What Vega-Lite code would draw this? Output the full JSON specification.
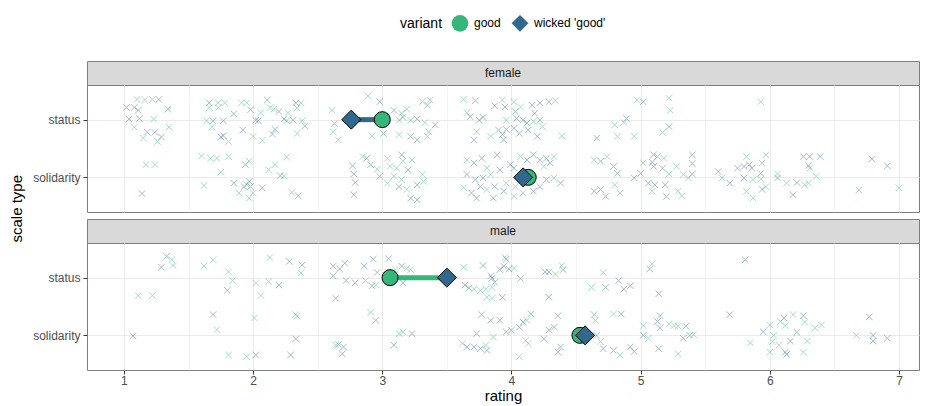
{
"$schema": "https://vega.github.io/schema/vega-lite/v6.json",
"padding": {"left": 10, "top": 14, "right": 11, "bottom": 0},
"title": {"text": "scale type", "orient": "left", "anchor": "middle", "fontSize": 15, "fontWeight": "normal", "color": "#000000", "offset": 7},
"config": {
  "font": "Liberation Sans",
  "view": {"stroke": "#7f7f7f", "strokeWidth": 1},
  "legend": {"layout": {"top": {"anchor": "middle"}}},
  "axis": {"labelColor": "#4d4d4d", "labelFontSize": 12, "tickColor": "#333333", "tickSize": 4, "domain": false, "gridColor": "#ebebeb", "titleFontWeight": "normal", "titleFontSize": 15, "titleColor": "#000000", "labelPadding": 3}
},
"datasets": {
"female": [
{"rating":1.10,"y":2.35,"variant":"good"},{"rating":1.16,"y":2.34,"variant":"good"},{"rating":1.22,"y":2.35,"variant":"good"},{"rating":1.27,"y":2.35,"variant":"wicked 'good'"},{"rating":1.02,"y":2.21,"variant":"wicked 'good'"},{"rating":1.08,"y":2.21,"variant":"wicked 'good'"},{"rating":1.11,"y":2.16,"variant":"wicked 'good'"},{"rating":1.34,"y":2.18,"variant":"wicked 'good'"},{"rating":1.04,"y":2.01,"variant":"wicked 'good'"},{"rating":1.12,"y":2.02,"variant":"wicked 'good'"},{"rating":1.23,"y":2.01,"variant":"good"},{"rating":1.08,"y":1.87,"variant":"good"},{"rating":1.35,"y":1.87,"variant":"good"},{"rating":1.18,"y":1.78,"variant":"wicked 'good'"},{"rating":1.24,"y":1.78,"variant":"wicked 'good'"},{"rating":1.29,"y":1.70,"variant":"wicked 'good'"},{"rating":1.15,"y":1.68,"variant":"good"},{"rating":1.26,"y":1.62,"variant":"good"},{"rating":1.17,"y":1.22,"variant":"good"},{"rating":1.24,"y":1.22,"variant":"good"},{"rating":1.14,"y":0.72,"variant":"wicked 'good'"},
{"rating":1.66,"y":2.29,"variant":"wicked 'good'"},{"rating":1.73,"y":2.29,"variant":"good"},{"rating":1.78,"y":2.29,"variant":"good"},{"rating":1.91,"y":2.29,"variant":"good"},{"rating":1.95,"y":2.29,"variant":"good"},{"rating":2.11,"y":2.34,"variant":"wicked 'good'"},{"rating":2.33,"y":2.29,"variant":"wicked 'good'"},{"rating":2.37,"y":2.29,"variant":"good"},{"rating":1.66,"y":2.21,"variant":"good"},{"rating":1.73,"y":2.21,"variant":"good"},{"rating":1.85,"y":2.10,"variant":"wicked 'good'"},{"rating":1.98,"y":2.17,"variant":"wicked 'good'"},{"rating":2.06,"y":2.12,"variant":"good"},{"rating":2.13,"y":2.21,"variant":"good"},{"rating":2.16,"y":2.18,"variant":"good"},{"rating":2.20,"y":2.14,"variant":"wicked 'good'"},{"rating":2.27,"y":2.12,"variant":"good"},{"rating":2.34,"y":2.20,"variant":"good"},
{"rating":1.64,"y":1.98,"variant":"good"},{"rating":1.69,"y":1.98,"variant":"wicked 'good'"},{"rating":1.77,"y":1.98,"variant":"wicked 'good'"},{"rating":2.02,"y":1.99,"variant":"wicked 'good'"},{"rating":2.04,"y":1.98,"variant":"wicked 'good'"},{"rating":2.24,"y":2.01,"variant":"wicked 'good'"},{"rating":2.31,"y":1.99,"variant":"wicked 'good'"},{"rating":2.26,"y":1.98,"variant":"good"},{"rating":2.38,"y":1.98,"variant":"good"},{"rating":2.40,"y":1.89,"variant":"wicked 'good'"},{"rating":1.68,"y":1.87,"variant":"good"},{"rating":1.92,"y":1.82,"variant":"wicked 'good'"},{"rating":2.00,"y":1.71,"variant":"good"},{"rating":2.07,"y":1.64,"variant":"good"},{"rating":2.15,"y":1.75,"variant":"wicked 'good'"},{"rating":2.17,"y":1.83,"variant":"wicked 'good'"},{"rating":2.34,"y":1.76,"variant":"good"},{"rating":1.75,"y":1.70,"variant":"wicked 'good'"},{"rating":1.77,"y":1.72,"variant":"wicked 'good'"},{"rating":1.81,"y":1.62,"variant":"good"},
{"rating":1.60,"y":1.37,"variant":"good"},{"rating":1.67,"y":1.33,"variant":"good"},{"rating":1.72,"y":1.33,"variant":"good"},{"rating":1.81,"y":1.36,"variant":"good"},{"rating":1.94,"y":1.22,"variant":"wicked 'good'"},{"rating":1.97,"y":1.28,"variant":"good"},{"rating":2.12,"y":1.13,"variant":"good"},{"rating":2.17,"y":1.22,"variant":"good"},{"rating":2.26,"y":1.35,"variant":"good"},{"rating":2.24,"y":1.02,"variant":"good"},{"rating":2.21,"y":1.03,"variant":"wicked 'good'"},{"rating":1.75,"y":1.09,"variant":"good"},{"rating":1.62,"y":0.86,"variant":"good"},{"rating":1.85,"y":0.90,"variant":"wicked 'good'"},{"rating":1.93,"y":0.84,"variant":"wicked 'good'"},{"rating":1.97,"y":0.93,"variant":"wicked 'good'"},{"rating":1.98,"y":0.84,"variant":"wicked 'good'"},{"rating":1.95,"y":0.87,"variant":"good"},{"rating":2.07,"y":0.82,"variant":"wicked 'good'"},{"rating":2.00,"y":0.73,"variant":"good"},{"rating":1.89,"y":0.73,"variant":"good"},{"rating":2.30,"y":0.74,"variant":"good"},{"rating":2.35,"y":0.68,"variant":"wicked 'good'"},{"rating":1.97,"y":0.64,"variant":"good"},
{"rating":2.61,"y":2.16,"variant":"good"},{"rating":2.63,"y":1.93,"variant":"wicked 'good'"},{"rating":2.62,"y":1.79,"variant":"good"},{"rating":2.66,"y":1.65,"variant":"good"},{"rating":2.77,"y":1.20,"variant":"wicked 'good'"},{"rating":2.78,"y":1.06,"variant":"wicked 'good'"},{"rating":2.79,"y":0.91,"variant":"wicked 'good'"},{"rating":2.78,"y":0.70,"variant":"wicked 'good'"},{"rating":2.85,"y":1.36,"variant":"good"},
{"rating":2.89,"y":2.41,"variant":"good"},{"rating":2.98,"y":2.31,"variant":"wicked 'good'"},{"rating":3.09,"y":2.16,"variant":"wicked 'good'"},{"rating":3.15,"y":2.11,"variant":"good"},{"rating":3.19,"y":2.18,"variant":"good"},{"rating":3.31,"y":2.31,"variant":"good"},{"rating":3.35,"y":2.25,"variant":"wicked 'good'"},{"rating":3.37,"y":2.34,"variant":"good"},{"rating":3.16,"y":2.04,"variant":"wicked 'good'"},{"rating":3.13,"y":1.99,"variant":"good"},{"rating":3.22,"y":1.99,"variant":"good"},{"rating":3.27,"y":2.01,"variant":"wicked 'good'"},{"rating":3.33,"y":1.95,"variant":"good"},{"rating":3.41,"y":1.91,"variant":"wicked 'good'"},{"rating":2.92,"y":1.72,"variant":"good"},{"rating":3.01,"y":1.76,"variant":"wicked 'good'"},{"rating":3.13,"y":1.74,"variant":"good"},{"rating":3.22,"y":1.71,"variant":"wicked 'good'"},{"rating":3.27,"y":1.65,"variant":"wicked 'good'"},{"rating":3.36,"y":1.79,"variant":"good"},{"rating":3.35,"y":1.71,"variant":"good"},
{"rating":3.63,"y":2.35,"variant":"good"},{"rating":3.72,"y":2.33,"variant":"wicked 'good'"},{"rating":3.87,"y":2.24,"variant":"wicked 'good'"},{"rating":3.93,"y":2.34,"variant":"good"},{"rating":3.95,"y":2.22,"variant":"wicked 'good'"},{"rating":4.02,"y":2.31,"variant":"good"},{"rating":4.07,"y":2.22,"variant":"good"},{"rating":4.16,"y":2.25,"variant":"wicked 'good'"},{"rating":4.22,"y":2.29,"variant":"wicked 'good'"},{"rating":4.29,"y":2.31,"variant":"wicked 'good'"},{"rating":4.34,"y":2.33,"variant":"good"},{"rating":4.18,"y":2.11,"variant":"wicked 'good'"},{"rating":4.03,"y":2.14,"variant":"wicked 'good'"},{"rating":3.655,"y":2.12,"variant":"good"},{"rating":3.68,"y":2.05,"variant":"wicked 'good'"},{"rating":3.75,"y":1.99,"variant":"wicked 'good'"},{"rating":3.78,"y":2.04,"variant":"wicked 'good'"},{"rating":3.96,"y":1.99,"variant":"good"},{"rating":4.04,"y":2.02,"variant":"wicked 'good'"},{"rating":4.09,"y":1.99,"variant":"wicked 'good'"},{"rating":4.12,"y":1.94,"variant":"wicked 'good'"},{"rating":4.17,"y":1.97,"variant":"good"},{"rating":4.22,"y":1.99,"variant":"wicked 'good'"},
{"rating":3.73,"y":1.79,"variant":"good"},{"rating":3.84,"y":1.71,"variant":"good"},{"rating":3.90,"y":1.82,"variant":"wicked 'good'"},{"rating":3.93,"y":1.74,"variant":"wicked 'good'"},{"rating":3.96,"y":1.83,"variant":"wicked 'good'"},{"rating":4.02,"y":1.85,"variant":"wicked 'good'"},{"rating":4.06,"y":1.76,"variant":"wicked 'good'"},{"rating":4.13,"y":1.82,"variant":"wicked 'good'"},{"rating":4.20,"y":1.71,"variant":"wicked 'good'"},{"rating":4.24,"y":1.88,"variant":"good"},{"rating":4.39,"y":1.72,"variant":"good"},{"rating":3.71,"y":1.65,"variant":"wicked 'good'"},{"rating":3.94,"y":1.65,"variant":"wicked 'good'"},
{"rating":2.88,"y":1.33,"variant":"wicked 'good'"},{"rating":2.91,"y":1.22,"variant":"wicked 'good'"},{"rating":2.96,"y":1.14,"variant":"good"},{"rating":3.04,"y":1.33,"variant":"good"},{"rating":3.06,"y":1.19,"variant":"good"},{"rating":3.11,"y":1.16,"variant":"good"},{"rating":3.15,"y":1.39,"variant":"wicked 'good'"},{"rating":3.16,"y":1.28,"variant":"good"},{"rating":3.23,"y":1.30,"variant":"good"},{"rating":2.98,"y":1.02,"variant":"wicked 'good'"},{"rating":3.04,"y":0.90,"variant":"good"},{"rating":3.09,"y":1.02,"variant":"good"},{"rating":3.13,"y":0.84,"variant":"wicked 'good'"},{"rating":3.15,"y":0.96,"variant":"good"},{"rating":3.20,"y":1.13,"variant":"wicked 'good'"},{"rating":3.27,"y":0.87,"variant":"wicked 'good'"},{"rating":3.31,"y":1.05,"variant":"good"},{"rating":3.32,"y":0.93,"variant":"good"},{"rating":3.22,"y":0.64,"variant":"wicked 'good'"},{"rating":3.27,"y":0.61,"variant":"wicked 'good'"},{"rating":3.19,"y":0.79,"variant":"good"},
{"rating":3.655,"y":1.30,"variant":"good"},{"rating":3.71,"y":1.25,"variant":"wicked 'good'"},{"rating":3.77,"y":1.33,"variant":"wicked 'good'"},{"rating":3.81,"y":1.16,"variant":"good"},{"rating":3.89,"y":1.39,"variant":"wicked 'good'"},{"rating":3.655,"y":1.05,"variant":"wicked 'good'"},{"rating":3.72,"y":0.96,"variant":"wicked 'good'"},{"rating":3.78,"y":0.99,"variant":"wicked 'good'"},{"rating":3.84,"y":1.05,"variant":"good"},{"rating":3.91,"y":1.13,"variant":"wicked 'good'"},{"rating":3.99,"y":1.22,"variant":"wicked 'good'"},{"rating":4.02,"y":1.16,"variant":"wicked 'good'"},{"rating":4.07,"y":1.36,"variant":"good"},{"rating":4.12,"y":1.30,"variant":"wicked 'good'"},{"rating":4.17,"y":1.39,"variant":"wicked 'good'"},{"rating":4.22,"y":1.30,"variant":"wicked 'good'"},{"rating":4.27,"y":1.33,"variant":"wicked 'good'"},{"rating":4.33,"y":1.36,"variant":"good"},{"rating":4.30,"y":1.25,"variant":"wicked 'good'"},{"rating":4.25,"y":1.19,"variant":"good"},
{"rating":3.63,"y":0.82,"variant":"good"},{"rating":3.69,"y":0.73,"variant":"wicked 'good'"},{"rating":3.76,"y":0.84,"variant":"wicked 'good'"},{"rating":3.81,"y":0.79,"variant":"good"},{"rating":3.87,"y":0.84,"variant":"wicked 'good'"},{"rating":3.94,"y":0.76,"variant":"wicked 'good'"},{"rating":3.96,"y":0.90,"variant":"good"},{"rating":4.03,"y":0.84,"variant":"good"},{"rating":4.09,"y":0.73,"variant":"good"},{"rating":4.17,"y":0.76,"variant":"wicked 'good'"},{"rating":4.22,"y":0.84,"variant":"wicked 'good'"},{"rating":4.27,"y":0.96,"variant":"wicked 'good'"},{"rating":4.33,"y":0.99,"variant":"good"},{"rating":4.38,"y":0.90,"variant":"wicked 'good'"},{"rating":3.73,"y":0.64,"variant":"wicked 'good'"},{"rating":3.86,"y":0.64,"variant":"wicked 'good'"},{"rating":4.02,"y":0.67,"variant":"good"},
{"rating":4.64,"y":1.30,"variant":"good"},{"rating":4.69,"y":1.28,"variant":"wicked 'good'"},{"rating":4.74,"y":1.36,"variant":"good"},{"rating":4.79,"y":1.19,"variant":"wicked 'good'"},{"rating":4.82,"y":1.07,"variant":"wicked 'good'"},{"rating":4.64,"y":0.76,"variant":"wicked 'good'"},{"rating":4.69,"y":0.79,"variant":"wicked 'good'"},{"rating":4.73,"y":0.67,"variant":"wicked 'good'"},{"rating":4.80,"y":0.87,"variant":"good"},{"rating":4.84,"y":0.73,"variant":"good"},{"rating":4.95,"y":0.99,"variant":"wicked 'good'"},{"rating":5.00,"y":1.07,"variant":"wicked 'good'"},{"rating":5.02,"y":1.25,"variant":"good"},{"rating":4.66,"y":1.68,"variant":"wicked 'good'"},{"rating":4.82,"y":1.71,"variant":"good"},{"rating":4.87,"y":1.95,"variant":"good"},{"rating":4.80,"y":1.91,"variant":"good"},{"rating":4.95,"y":1.71,"variant":"good"},{"rating":4.89,"y":2.02,"variant":"wicked 'good'"},{"rating":4.97,"y":2.34,"variant":"good"},{"rating":5.02,"y":2.31,"variant":"wicked 'good'"},
{"rating":5.22,"y":2.37,"variant":"good"},{"rating":5.23,"y":2.16,"variant":"good"},{"rating":5.22,"y":1.88,"variant":"wicked 'good'"},{"rating":5.17,"y":1.78,"variant":"good"},{"rating":5.93,"y":2.31,"variant":"good"},
{"rating":5.10,"y":1.39,"variant":"wicked 'good'"},{"rating":5.13,"y":1.36,"variant":"good"},{"rating":5.09,"y":1.26,"variant":"wicked 'good'"},{"rating":5.18,"y":1.33,"variant":"good"},{"rating":5.17,"y":1.16,"variant":"wicked 'good'"},{"rating":5.10,"y":1.19,"variant":"wicked 'good'"},{"rating":5.28,"y":1.19,"variant":"good"},{"rating":5.40,"y":1.39,"variant":"wicked 'good'"},{"rating":5.40,"y":1.24,"variant":"wicked 'good'"},{"rating":5.40,"y":1.06,"variant":"wicked 'good'"},{"rating":5.22,"y":1.06,"variant":"good"},{"rating":5.33,"y":1.05,"variant":"good"},{"rating":5.37,"y":0.99,"variant":"good"},{"rating":5.06,"y":0.90,"variant":"wicked 'good'"},{"rating":5.11,"y":0.87,"variant":"wicked 'good'"},{"rating":5.09,"y":0.76,"variant":"good"},{"rating":5.19,"y":0.87,"variant":"wicked 'good'"},{"rating":5.20,"y":0.67,"variant":"wicked 'good'"},{"rating":5.29,"y":0.76,"variant":"good"},{"rating":5.32,"y":0.68,"variant":"good"},
{"rating":5.60,"y":1.10,"variant":"wicked 'good'"},{"rating":5.63,"y":0.99,"variant":"good"},{"rating":5.69,"y":0.90,"variant":"wicked 'good'"},{"rating":5.75,"y":1.16,"variant":"wicked 'good'"},{"rating":5.80,"y":1.19,"variant":"wicked 'good'"},{"rating":5.84,"y":1.22,"variant":"wicked 'good'"},{"rating":5.86,"y":1.16,"variant":"wicked 'good'"},{"rating":5.82,"y":1.36,"variant":"good"},{"rating":5.97,"y":1.39,"variant":"good"},{"rating":5.94,"y":1.25,"variant":"good"},{"rating":5.93,"y":1.07,"variant":"wicked 'good'"},{"rating":5.80,"y":0.99,"variant":"wicked 'good'"},{"rating":5.87,"y":0.96,"variant":"good"},{"rating":5.93,"y":0.97,"variant":"good"},{"rating":5.97,"y":0.84,"variant":"good"},{"rating":5.82,"y":0.76,"variant":"good"},{"rating":5.87,"y":0.64,"variant":"good"},{"rating":5.94,"y":0.79,"variant":"wicked 'good'"},
{"rating":6.06,"y":1.06,"variant":"good"},{"rating":6.06,"y":0.99,"variant":"wicked 'good'"},{"rating":6.13,"y":0.90,"variant":"good"},{"rating":6.21,"y":0.91,"variant":"wicked 'good'"},{"rating":6.27,"y":0.87,"variant":"good"},{"rating":6.30,"y":0.90,"variant":"good"},{"rating":6.26,"y":1.36,"variant":"wicked 'good'"},{"rating":6.31,"y":1.36,"variant":"wicked 'good'"},{"rating":6.39,"y":1.36,"variant":"wicked 'good'"},{"rating":6.30,"y":1.20,"variant":"wicked 'good'"},{"rating":6.31,"y":1.16,"variant":"good"},{"rating":6.36,"y":1.02,"variant":"good"},{"rating":6.18,"y":0.70,"variant":"wicked 'good'"},{"rating":6.79,"y":1.32,"variant":"wicked 'good'"},{"rating":6.91,"y":1.20,"variant":"wicked 'good'"},{"rating":6.69,"y":0.78,"variant":"good"},{"rating":7.00,"y":0.82,"variant":"good"}
],
"male": [
{"rating":1.33,"y":2.37,"variant":"wicked 'good'"},{"rating":1.37,"y":2.31,"variant":"good"},{"rating":1.38,"y":2.21,"variant":"good"},{"rating":1.29,"y":2.18,"variant":"wicked 'good'"},{"rating":1.62,"y":2.20,"variant":"good"},{"rating":1.69,"y":2.31,"variant":"good"},{"rating":1.81,"y":2.10,"variant":"good"},{"rating":1.84,"y":1.95,"variant":"good"},{"rating":1.80,"y":1.78,"variant":"wicked 'good'"},{"rating":2.13,"y":2.35,"variant":"good"},{"rating":2.28,"y":2.28,"variant":"wicked 'good'"},{"rating":2.38,"y":2.22,"variant":"wicked 'good'"},{"rating":2.37,"y":2.08,"variant":"good"},{"rating":2.02,"y":1.91,"variant":"good"},{"rating":2.12,"y":1.93,"variant":"good"},{"rating":2.20,"y":1.87,"variant":"wicked 'good'"},{"rating":2.06,"y":1.69,"variant":"good"},{"rating":1.11,"y":1.69,"variant":"good"},{"rating":1.22,"y":1.69,"variant":"good"},
{"rating":1.69,"y":1.36,"variant":"wicked 'good'"},{"rating":1.72,"y":1.10,"variant":"good"},{"rating":2.01,"y":1.30,"variant":"good"},{"rating":2.33,"y":1.36,"variant":"good"},{"rating":2.34,"y":1.33,"variant":"good"},{"rating":1.07,"y":0.99,"variant":"wicked 'good'"},{"rating":2.33,"y":0.94,"variant":"wicked 'good'"},{"rating":1.81,"y":0.66,"variant":"good"},{"rating":1.95,"y":0.63,"variant":"good"},{"rating":2.02,"y":0.66,"variant":"wicked 'good'"},{"rating":2.29,"y":0.66,"variant":"wicked 'good'"},
{"rating":2.62,"y":2.20,"variant":"wicked 'good'"},{"rating":2.67,"y":2.15,"variant":"wicked 'good'"},{"rating":2.71,"y":2.25,"variant":"wicked 'good'"},{"rating":2.62,"y":2.03,"variant":"wicked 'good'"},{"rating":2.72,"y":1.95,"variant":"wicked 'good'"},{"rating":2.79,"y":1.91,"variant":"wicked 'good'"},{"rating":2.86,"y":2.20,"variant":"wicked 'good'"},{"rating":2.87,"y":1.95,"variant":"good"},{"rating":2.64,"y":1.64,"variant":"wicked 'good'"},{"rating":2.64,"y":0.83,"variant":"good"},{"rating":2.66,"y":0.84,"variant":"wicked 'good'"},{"rating":2.70,"y":0.80,"variant":"wicked 'good'"},{"rating":2.69,"y":0.68,"variant":"wicked 'good'"},
{"rating":2.93,"y":2.32,"variant":"wicked 'good'"},{"rating":3.05,"y":2.33,"variant":"wicked 'good'"},{"rating":3.15,"y":2.20,"variant":"wicked 'good'"},{"rating":3.19,"y":2.16,"variant":"good"},{"rating":3.22,"y":2.14,"variant":"good"},{"rating":3.10,"y":2.14,"variant":"good"},{"rating":2.96,"y":2.09,"variant":"wicked 'good'"},{"rating":2.92,"y":1.86,"variant":"wicked 'good'"},{"rating":2.95,"y":1.87,"variant":"good"},{"rating":3.16,"y":1.91,"variant":"wicked 'good'"},
{"rating":3.63,"y":2.18,"variant":"good"},{"rating":3.78,"y":2.21,"variant":"wicked 'good'"},{"rating":3.95,"y":2.35,"variant":"good"},{"rating":3.96,"y":2.32,"variant":"wicked 'good'"},{"rating":3.94,"y":2.20,"variant":"wicked 'good'"},{"rating":3.98,"y":2.15,"variant":"wicked 'good'"},{"rating":3.91,"y":2.14,"variant":"wicked 'good'"},{"rating":4.02,"y":2.16,"variant":"good"},{"rating":4.07,"y":1.98,"variant":"wicked 'good'"},{"rating":3.84,"y":2.03,"variant":"wicked 'good'"},{"rating":3.85,"y":1.99,"variant":"wicked 'good'"},{"rating":3.64,"y":1.87,"variant":"wicked 'good'"},{"rating":3.67,"y":1.82,"variant":"wicked 'good'"},{"rating":3.71,"y":1.80,"variant":"good"},{"rating":3.76,"y":1.78,"variant":"good"},{"rating":3.80,"y":1.80,"variant":"good"},{"rating":3.85,"y":1.83,"variant":"good"},{"rating":3.87,"y":1.92,"variant":"wicked 'good'"},{"rating":3.81,"y":1.66,"variant":"good"},{"rating":3.85,"y":1.64,"variant":"good"},{"rating":3.93,"y":1.66,"variant":"wicked 'good'"},
{"rating":4.26,"y":2.10,"variant":"wicked 'good'"},{"rating":4.29,"y":2.10,"variant":"wicked 'good'"},{"rating":4.34,"y":2.06,"variant":"good"},{"rating":4.39,"y":2.21,"variant":"good"},{"rating":4.40,"y":2.14,"variant":"wicked 'good'"},{"rating":4.29,"y":1.66,"variant":"wicked 'good'"},{"rating":4.62,"y":1.83,"variant":"good"},{"rating":4.73,"y":1.83,"variant":"wicked 'good'"},{"rating":4.83,"y":1.95,"variant":"wicked 'good'"},{"rating":4.87,"y":1.80,"variant":"wicked 'good'"},{"rating":4.92,"y":1.86,"variant":"wicked 'good'"},{"rating":4.71,"y":2.09,"variant":"good"},
{"rating":2.91,"y":1.40,"variant":"good"},{"rating":2.95,"y":1.26,"variant":"wicked 'good'"},{"rating":3.13,"y":1.03,"variant":"good"},{"rating":3.16,"y":1.06,"variant":"good"},{"rating":3.23,"y":1.03,"variant":"wicked 'good'"},{"rating":3.09,"y":0.83,"variant":"wicked 'good'"},
{"rating":3.77,"y":1.36,"variant":"wicked 'good'"},{"rating":3.84,"y":1.26,"variant":"wicked 'good'"},{"rating":3.91,"y":1.26,"variant":"wicked 'good'"},{"rating":3.73,"y":1.03,"variant":"wicked 'good'"},{"rating":3.86,"y":0.97,"variant":"good"},{"rating":3.62,"y":0.86,"variant":"good"},{"rating":3.655,"y":0.80,"variant":"wicked 'good'"},{"rating":3.71,"y":0.80,"variant":"wicked 'good'"},{"rating":3.76,"y":0.77,"variant":"wicked 'good'"},{"rating":3.80,"y":0.83,"variant":"good"},{"rating":3.81,"y":0.74,"variant":"wicked 'good'"},
{"rating":3.96,"y":1.06,"variant":"wicked 'good'"},{"rating":4.00,"y":1.09,"variant":"wicked 'good'"},{"rating":4.06,"y":1.14,"variant":"wicked 'good'"},{"rating":4.09,"y":1.23,"variant":"wicked 'good'"},{"rating":4.12,"y":1.26,"variant":"good"},{"rating":4.15,"y":1.37,"variant":"wicked 'good'"},{"rating":4.11,"y":0.91,"variant":"good"},{"rating":4.13,"y":0.86,"variant":"good"},{"rating":4.06,"y":0.63,"variant":"good"},{"rating":4.25,"y":0.94,"variant":"wicked 'good'"},{"rating":4.29,"y":1.09,"variant":"wicked 'good'"},{"rating":4.33,"y":1.14,"variant":"wicked 'good'"},{"rating":4.36,"y":1.34,"variant":"wicked 'good'"},{"rating":4.38,"y":0.80,"variant":"wicked 'good'"},{"rating":4.36,"y":0.71,"variant":"wicked 'good'"},
{"rating":4.64,"y":1.36,"variant":"wicked 'good'"},{"rating":4.65,"y":1.26,"variant":"good"},{"rating":4.79,"y":1.37,"variant":"good"},{"rating":4.85,"y":1.37,"variant":"wicked 'good'"},{"rating":4.66,"y":1.00,"variant":"wicked 'good'"},{"rating":4.69,"y":0.89,"variant":"good"},{"rating":4.71,"y":0.77,"variant":"wicked 'good'"},{"rating":4.79,"y":0.74,"variant":"wicked 'good'"},{"rating":4.84,"y":0.66,"variant":"good"},{"rating":4.92,"y":0.80,"variant":"wicked 'good'"},{"rating":4.95,"y":0.72,"variant":"wicked 'good'"},{"rating":5.02,"y":1.17,"variant":"good"},{"rating":5.02,"y":1.00,"variant":"wicked 'good'"},
{"rating":5.09,"y":2.24,"variant":"good"},{"rating":5.07,"y":2.15,"variant":"wicked 'good'"},{"rating":5.81,"y":2.31,"variant":"wicked 'good'"},{"rating":5.14,"y":1.72,"variant":"wicked 'good'"},
{"rating":5.15,"y":1.34,"variant":"wicked 'good'"},{"rating":5.13,"y":1.24,"variant":"wicked 'good'"},{"rating":5.15,"y":1.13,"variant":"wicked 'good'"},{"rating":5.22,"y":1.20,"variant":"good"},{"rating":5.26,"y":1.17,"variant":"good"},{"rating":5.29,"y":1.16,"variant":"good"},{"rating":5.35,"y":1.16,"variant":"wicked 'good'"},{"rating":5.33,"y":0.95,"variant":"wicked 'good'"},{"rating":5.38,"y":1.00,"variant":"wicked 'good'"},{"rating":5.41,"y":1.01,"variant":"good"},{"rating":5.06,"y":0.95,"variant":"good"},{"rating":5.14,"y":0.77,"variant":"wicked 'good'"},{"rating":5.29,"y":0.68,"variant":"good"},
{"rating":5.69,"y":1.36,"variant":"wicked 'good'"},{"rating":5.85,"y":0.87,"variant":"good"},{"rating":5.95,"y":1.06,"variant":"wicked 'good'"},{"rating":6.00,"y":1.18,"variant":"good"},{"rating":6.03,"y":1.00,"variant":"good"},{"rating":6.02,"y":0.89,"variant":"good"},{"rating":6.00,"y":0.71,"variant":"good"},{"rating":6.07,"y":0.83,"variant":"good"},{"rating":6.11,"y":1.30,"variant":"wicked 'good'"},{"rating":6.12,"y":1.17,"variant":"good"},{"rating":6.08,"y":1.24,"variant":"good"},{"rating":6.18,"y":1.36,"variant":"good"},{"rating":6.26,"y":1.34,"variant":"wicked 'good'"},{"rating":6.27,"y":1.23,"variant":"good"},{"rating":6.21,"y":1.05,"variant":"wicked 'good'"},{"rating":6.16,"y":0.90,"variant":"wicked 'good'"},{"rating":6.12,"y":0.71,"variant":"wicked 'good'"},{"rating":6.13,"y":0.67,"variant":"wicked 'good'"},{"rating":6.26,"y":0.71,"variant":"good"},{"rating":6.29,"y":0.90,"variant":"good"},{"rating":6.35,"y":1.13,"variant":"good"},{"rating":6.40,"y":1.18,"variant":"good"},
{"rating":6.77,"y":1.32,"variant":"wicked 'good'"},{"rating":6.67,"y":1.00,"variant":"good"},{"rating":6.80,"y":1.00,"variant":"wicked 'good'"},{"rating":6.80,"y":0.90,"variant":"wicked 'good'"},{"rating":6.91,"y":0.95,"variant":"wicked 'good'"}
],
"means": [
{"gender":"female","scale":"status","variant":"good","rating":3.00,"y":2},
{"gender":"female","scale":"solidarity","variant":"good","rating":4.13,"y":1},
{"gender":"female","scale":"status","variant":"wicked 'good'","rating":2.76,"y":2},
{"gender":"female","scale":"solidarity","variant":"wicked 'good'","rating":4.09,"y":1},
{"gender":"male","scale":"status","variant":"good","rating":3.06,"y":2},
{"gender":"male","scale":"solidarity","variant":"good","rating":4.53,"y":1},
{"gender":"male","scale":"status","variant":"wicked 'good'","rating":3.50,"y":2},
{"gender":"male","scale":"solidarity","variant":"wicked 'good'","rating":4.57,"y":1}
],
"segs": [
{"gender":"female","scale":"status","variant":"wicked 'good'","rating":2.76,"rating_end":3.00,"y":2},
{"gender":"female","scale":"solidarity","variant":"wicked 'good'","rating":4.09,"rating_end":4.13,"y":1},
{"gender":"male","scale":"status","variant":"good","rating":3.06,"rating_end":3.50,"y":2},
{"gender":"male","scale":"solidarity","variant":"good","rating":4.53,"rating_end":4.57,"y":1}
]
},
"spacing": 5,
"vconcat": [
 {"spacing": 0, "bounds": "flush", "vconcat": [
  {"data": {"values": [{"gender": "female"}]}, "width": 832, "height": 24, "view": {"fill": "#d9d9d9", "stroke": "#7f7f7f"},
   "mark": {"type": "text", "fontSize": 12, "color": "#1a1a1a"}, "encoding": {"text": {"field": "gender"}}},
  {"width": 832, "height": 127,
   "encoding": {
     "x": {"field": "rating", "type": "quantitative", "scale": {"domain": [0.714, 7.155], "nice": false, "zero": false},
           "axis": {"values": [1,1.5,2,2.5,3,3.5,4,4.5,5,5.5,6,6.5,7], "labels": false, "ticks": false, "title": null, "grid": true,
                    "gridWidth": {"condition": {"test": "datum.value % 1 != 0", "value": 0.6}, "value": 1}}},
     "y": {"field": "y", "type": "quantitative", "scale": {"domain": [0.4, 2.6], "nice": false, "zero": false},
           "axis": {"values": [1, 2], "labelExpr": "datum.value == 2 ? 'status' : 'solidarity'", "title": null, "grid": true}}
   },
   "layer": [
    {"data": {"name": "female"},
     "mark": {"type": "point", "shape": "M-1,-1L1,1M-1,1L1,-1", "filled": false, "size": 42, "strokeWidth": 1, "opacity": 0.45},
     "encoding": {"color": {"field": "variant", "type": "nominal", "scale": {"domain": ["wicked 'good'", "good"], "range": ["#31688e", "#35b779"]}, "legend": null}}},
    {"data": {"name": "segs"}, "transform": [{"filter": "datum.gender == 'female'"}],
     "mark": {"type": "rule", "strokeWidth": 5},
     "encoding": {"x2": {"field": "rating_end"}, "color": {"field": "variant", "type": "nominal", "scale": {"domain": ["wicked 'good'", "good"], "range": ["#31688e", "#35b779"]}, "legend": null}}},
    {"data": {"name": "means"}, "transform": [{"filter": "datum.gender == 'female'"}],
     "mark": {"type": "point", "filled": true, "opacity": 1, "stroke": "#000000", "strokeWidth": 1},
     "encoding": {
       "fill": {"field": "variant", "type": "nominal", "title": "variant", "scale": {"domain": ["good", "wicked 'good'"], "range": ["#35b779", "#31688e"]},
                "legend": {"orient": "top", "direction": "horizontal", "titleOrient": "left", "titleFontSize": 14, "titleFontWeight": "normal", "titleColor": "#000000", "labelFontSize": 12, "labelColor": "#000000", "symbolStrokeColor": "#000000", "symbolStrokeWidth": 1, "symbolSize": 280, "symbolOpacity": 1, "titlePadding": 8, "columnPadding": 8, "labelOffset": 5, "offset": 26}},
       "shape": {"field": "variant", "type": "nominal", "title": "variant", "scale": {"domain": ["good", "wicked 'good'"], "range": ["circle", "diamond"]},
                "legend": {"orient": "top", "direction": "horizontal", "titleOrient": "left", "titleFontSize": 14, "titleFontWeight": "normal", "titleColor": "#000000", "labelFontSize": 12, "labelColor": "#000000", "symbolStrokeColor": "#000000", "symbolStrokeWidth": 1, "symbolSize": 280, "symbolOpacity": 1, "titlePadding": 8, "columnPadding": 8, "labelOffset": 5, "offset": 26}},
       "size": {"field": "variant", "type": "ordinal", "scale": {"domain": ["wicked 'good'", "good"], "range": [361, 256]}, "legend": null}
     }}
   ]}
 ]},
 {"spacing": 0, "bounds": "flush", "vconcat": [
  {"data": {"values": [{"gender": "male"}]}, "width": 832, "height": 24, "view": {"fill": "#d9d9d9", "stroke": "#7f7f7f"},
   "mark": {"type": "text", "fontSize": 12, "color": "#1a1a1a"}, "encoding": {"text": {"field": "gender"}}},
  {"width": 832, "height": 127,
   "encoding": {
     "x": {"field": "rating", "type": "quantitative", "scale": {"domain": [0.714, 7.155], "nice": false, "zero": false},
           "axis": {"values": [1,1.5,2,2.5,3,3.5,4,4.5,5,5.5,6,6.5,7], "labelExpr": "datum.value % 1 == 0 ? format(datum.value, 'd') : ''", "title": "rating", "titlePadding": 2, "labelPadding": 1, "grid": true,
                    "tickOpacity": {"condition": {"test": "datum.value % 1 != 0", "value": 0}, "value": 1},
                    "gridWidth": {"condition": {"test": "datum.value % 1 != 0", "value": 0.6}, "value": 1}}},
     "y": {"field": "y", "type": "quantitative", "scale": {"domain": [0.4, 2.6], "nice": false, "zero": false},
           "axis": {"values": [1, 2], "labelExpr": "datum.value == 2 ? 'status' : 'solidarity'", "title": null, "grid": true}}
   },
   "layer": [
    {"data": {"name": "male"},
     "mark": {"type": "point", "shape": "M-1,-1L1,1M-1,1L1,-1", "filled": false, "size": 42, "strokeWidth": 1, "opacity": 0.45},
     "encoding": {"color": {"field": "variant", "type": "nominal", "scale": {"domain": ["wicked 'good'", "good"], "range": ["#31688e", "#35b779"]}, "legend": null}}},
    {"data": {"name": "segs"}, "transform": [{"filter": "datum.gender == 'male'"}],
     "mark": {"type": "rule", "strokeWidth": 5},
     "encoding": {"x2": {"field": "rating_end"}, "color": {"field": "variant", "type": "nominal", "scale": {"domain": ["wicked 'good'", "good"], "range": ["#31688e", "#35b779"]}, "legend": null}}},
    {"data": {"name": "means"}, "transform": [{"filter": "datum.gender == 'male'"}],
     "mark": {"type": "point", "filled": true, "opacity": 1, "stroke": "#000000", "strokeWidth": 1},
     "encoding": {
       "fill": {"field": "variant", "type": "nominal", "title": "variant", "scale": {"domain": ["good", "wicked 'good'"], "range": ["#35b779", "#31688e"]},
                "legend": {"orient": "top", "direction": "horizontal", "titleOrient": "left", "titleFontSize": 14, "titleFontWeight": "normal", "titleColor": "#000000", "labelFontSize": 12, "labelColor": "#000000", "symbolStrokeColor": "#000000", "symbolStrokeWidth": 1, "symbolSize": 280, "symbolOpacity": 1, "titlePadding": 8, "columnPadding": 8, "labelOffset": 5, "offset": 26}},
       "shape": {"field": "variant", "type": "nominal", "title": "variant", "scale": {"domain": ["good", "wicked 'good'"], "range": ["circle", "diamond"]},
                "legend": {"orient": "top", "direction": "horizontal", "titleOrient": "left", "titleFontSize": 14, "titleFontWeight": "normal", "titleColor": "#000000", "labelFontSize": 12, "labelColor": "#000000", "symbolStrokeColor": "#000000", "symbolStrokeWidth": 1, "symbolSize": 280, "symbolOpacity": 1, "titlePadding": 8, "columnPadding": 8, "labelOffset": 5, "offset": 26}},
       "size": {"field": "variant", "type": "ordinal", "scale": {"domain": ["wicked 'good'", "good"], "range": [361, 256]}, "legend": null}
     }}
   ]}
 ]}
]
}
